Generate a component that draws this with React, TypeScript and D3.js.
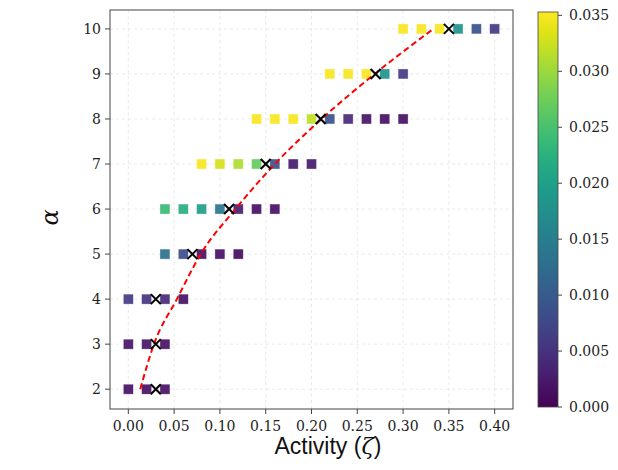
import React from "react";
import * as d3 from "d3";

// ---- data ----
const alphaLevels = [2, 3, 4, 5, 6, 7, 8, 9, 10];

const rowZeta: number[][] = [
  [0.0, 0.02, 0.04],
  [0.0, 0.02, 0.04],
  [0.0, 0.02, 0.04, 0.06],
  [0.04, 0.06, 0.08, 0.1, 0.12],
  [0.04, 0.06, 0.08, 0.1, 0.12, 0.14, 0.16],
  [0.08, 0.1, 0.12, 0.14, 0.16, 0.18, 0.2],
  [0.14, 0.16, 0.18, 0.2, 0.22, 0.24, 0.26, 0.28, 0.3],
  [0.22, 0.24, 0.26, 0.28, 0.3],
  [0.3, 0.32, 0.34, 0.36, 0.38, 0.4],
];

const rowValue: number[][] = [
  [0.0015, 0.0015, 0.0015],
  [0.002, 0.002, 0.0015],
  [0.006, 0.005, 0.004, 0.0015],
  [0.013, 0.008, 0.0015, 0.0015, 0.001],
  [0.024, 0.022, 0.0195, 0.014, 0.003, 0.0015, 0.0015],
  [0.035, 0.033, 0.031, 0.027, 0.009, 0.0025, 0.0025],
  [0.035, 0.035, 0.035, 0.032, 0.009, 0.004, 0.002, 0.0015, 0.0015],
  [0.035, 0.035, 0.035, 0.018, 0.006],
  [0.035, 0.035, 0.035, 0.018, 0.009, 0.006],
];

const crossZeta = [0.03, 0.03, 0.03, 0.07, 0.11, 0.15, 0.21, 0.27, 0.35];

const fitZeta = [0.013, 0.028, 0.053, 0.079, 0.117, 0.16, 0.211, 0.269, 0.333];
const fitAlpha = [2, 3, 4, 5, 6, 7, 8, 9, 10];

const xTicks = [0, 0.05, 0.1, 0.15, 0.2, 0.25, 0.3, 0.35, 0.4];
const yTicks = [2, 3, 4, 5, 6, 7, 8, 9, 10];
const cTicks = [0, 0.005, 0.01, 0.015, 0.02, 0.025, 0.03, 0.035];

// ---- layout ----
const W = 618;
const H = 470;
const plot = { left: 110, right: 513, top: 10, bottom: 409 };
const cbar = { left: 538, right: 558, top: 12, bottom: 407 };
const tickFont = "'DejaVu Serif', serif";

export default function App() {
  const x = d3.scaleLinear().domain([-0.02, 0.42]).range([plot.left, plot.right]);
  const y = d3.scaleLinear().domain([1.56, 10.42]).range([plot.bottom, plot.top]);
  const cMax = 0.0353;
  const color = d3.scaleSequential(d3.interpolateViridis).domain([0, cMax]);
  const cy = d3.scaleLinear().domain([0, cMax]).range([cbar.bottom, cbar.top]);

  const sq = 10;
  const cs = 5;

  const line = d3
    .line<number>()
    .x((_, i) => x(fitZeta[i]))
    .y((_, i) => y(fitAlpha[i]))
    .curve(d3.curveMonotoneX);

  const stops = d3.range(0, 1.0001, 0.05);

  return (
    <svg width={W} height={H} style={{ position: "absolute", left: 0, top: 0 }}>
      <defs>
        <linearGradient id="vir" x1="0" y1="1" x2="0" y2="0">
          {stops.map((t) => (
            <stop key={t} offset={t} stopColor={d3.interpolateViridis(t)} />
          ))}
        </linearGradient>
        <clipPath id="plotclip">
          <rect x={plot.left} y={plot.top} width={plot.right - plot.left} height={plot.bottom - plot.top} />
        </clipPath>
      </defs>
      <rect x={0} y={0} width={W} height={H} fill="#fff" />

      {/* grid */}
      {xTicks.map((t) => (
        <line key={"gx" + t} x1={x(t)} x2={x(t)} y1={plot.top} y2={plot.bottom}
          stroke="#e3e3e3" strokeWidth={0.8} strokeDasharray="3,3" />
      ))}
      {yTicks.map((t) => (
        <line key={"gy" + t} x1={plot.left} x2={plot.right} y1={y(t)} y2={y(t)}
          stroke="#e3e3e3" strokeWidth={0.8} strokeDasharray="3,3" />
      ))}

      {/* squares */}
      <g clipPath="url(#plotclip)">
        {alphaLevels.map((a, r) =>
          rowZeta[r].map((z, i) => (
            <rect key={a + "-" + i} x={x(z) - sq / 2} y={y(a) - sq / 2} width={sq} height={sq}
              fill={color(rowValue[r][i])} fillOpacity={0.92} stroke="#ffffff" strokeOpacity={0.6} strokeWidth={0.6} />
          ))
        )}
        {/* fit curve */}
        <path d={line(fitAlpha) || ""} fill="none" stroke="#ff0000" strokeWidth={2} strokeDasharray="6,3.5" />
        {/* crosses */}
        {alphaLevels.map((a, r) => {
          const cx = x(crossZeta[r]);
          const cyy = y(a);
          return (
            <g key={"c" + a} stroke="#000" strokeWidth={2}>
              <line x1={cx - cs} y1={cyy - cs} x2={cx + cs} y2={cyy + cs} />
              <line x1={cx - cs} y1={cyy + cs} x2={cx + cs} y2={cyy - cs} />
            </g>
          );
        })}
      </g>

      {/* frame */}
      <rect x={plot.left} y={plot.top} width={plot.right - plot.left} height={plot.bottom - plot.top}
        fill="none" stroke="#444" strokeWidth={1} />

      {/* x ticks */}
      {xTicks.map((t) => (
        <g key={"xt" + t}>
          <line x1={x(t)} x2={x(t)} y1={plot.bottom} y2={plot.bottom + 5} stroke="#444" />
          <text x={x(t)} y={plot.bottom + 22} textAnchor="middle" fontFamily={tickFont} fontSize={14} fill="#222">
            {d3.format(".2f")(t)}
          </text>
        </g>
      ))}
      {/* y ticks */}
      {yTicks.map((t) => (
        <g key={"yt" + t}>
          <line x1={plot.left - 5} x2={plot.left} y1={y(t)} y2={y(t)} stroke="#444" />
          <text x={plot.left - 9} y={y(t)} dy="0.35em" textAnchor="end" fontFamily={tickFont} fontSize={14} fill="#222">
            {t}
          </text>
        </g>
      ))}

      {/* axis labels */}
      <text x={328} y={454} textAnchor="middle" fontFamily="'Liberation Sans', Arial, sans-serif" fontSize={23} fill="#111">
        Activity (<tspan fontFamily={tickFont} fontStyle="italic">ζ</tspan>)
      </text>
      <text transform={`translate(58,${(plot.top + plot.bottom) / 2 + 8}) rotate(-90)`} textAnchor="middle"
        fontFamily={tickFont} fontStyle="italic" fontSize={24} fill="#111">
        α
      </text>

      {/* colorbar */}
      <rect x={cbar.left} y={cbar.top} width={cbar.right - cbar.left} height={cbar.bottom - cbar.top} fill="url(#vir)" />
      <rect x={cbar.left} y={cbar.top} width={cbar.right - cbar.left} height={cbar.bottom - cbar.top}
        fill="none" stroke="#444" strokeWidth={0.8} />
      {cTicks.map((t) => (
        <g key={"ct" + t}>
          <line x1={cbar.right} x2={cbar.right + 4} y1={cy(t)} y2={cy(t)} stroke="#444" />
          <text x={cbar.right + 11} y={cy(t)} dy="0.35em" fontFamily={tickFont} fontSize={14} fill="#222">
            {d3.format(".3f")(t)}
          </text>
        </g>
      ))}
    </svg>
  );
}
